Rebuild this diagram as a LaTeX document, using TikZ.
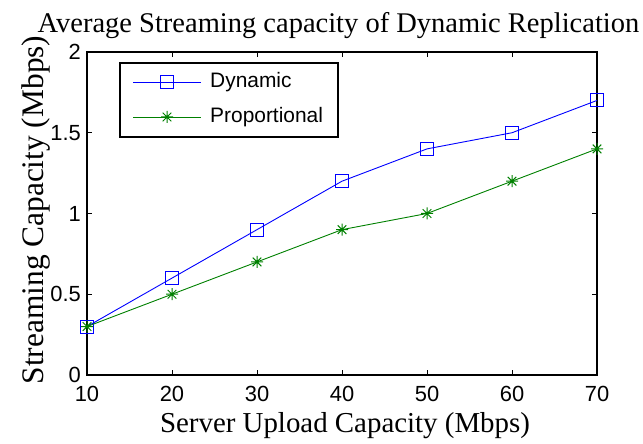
\documentclass[tikz,border=0pt]{standalone}
\usepackage{fontspec}
\usetikzlibrary{calc}
\setmainfont{Liberation Serif}
\newfontfamily\arialfont{Liberation Sans}
\definecolor{dynBlue}{RGB}{0,0,255}
\definecolor{propGreen}{RGB}{0,128,0}

\begin{document}
\begin{tikzpicture}[x=1bp, y=1bp,
  axisline/.style={draw=black, line width=1.4bp},
  tickmark/.style={draw=black, line width=1bp},
  ticklab/.style={font=\arialfont\fontsize{22}{24}\selectfont, inner sep=0pt},
  axlab/.style={font=\fontsize{29}{32}\selectfont, inner sep=0pt, anchor=base},
  leglab/.style={font=\arialfont\fontsize{21}{24}\selectfont, inner sep=0pt, anchor=west},
  dynline/.style={draw=dynBlue, line width=0.9bp},
  propline/.style={draw=propGreen, line width=0.9bp},
  sqmark/.style={draw=dynBlue, line width=1bp, rectangle, minimum size=13bp, inner sep=0pt},
  legbox/.style={draw=black, line width=1.2bp, fill=white},
  asterisk/.pic={
    \draw[propGreen, line width=1bp] (-6bp,0)--(6bp,0) (0,-6bp)--(0,6bp)
      (-4.3bp,-4.3bp)--(4.3bp,4.3bp) (-4.3bp,4.3bp)--(4.3bp,-4.3bp);}
]
\useasboundingbox (0,0) rectangle (643,444);

% ---- titles
\node[axlab, font=\fontsize{28.6}{32}\selectfont] (title) at (338.5,411)
  {Average Streaming capacity of Dynamic Replication};
\node[axlab] (xlab) at (345,11) {Server Upload Capacity (Mbps)};
\node[axlab, font=\fontsize{31.5}{34}\selectfont, rotate=90] (ylab) at (43,234)
  {Streaming Capacity (Mbps)};

% ---- axes (data x-10, y)
\begin{scope}[shift={(87,69)}, x=8.5bp, y=161.5bp]
  \draw[axisline] (0,0) rectangle (60,2);
  \foreach \xv in {10,20,...,70}{
    \draw[tickmark] (\xv-10,0) -- ++(0,5bp);
    \draw[tickmark] (\xv-10,2) -- ++(0,-5bp);
    \node[ticklab, anchor=north, yshift=-11bp] (xt\xv) at (\xv-10,0) {\xv};
  }
  \foreach \yv/\yl in {0/0, 0.5/0.5, 1/1, 1.5/1.5, 2/2}{
    \draw[tickmark] (0,\yv) -- ++(5bp,0);
    \draw[tickmark] (60,\yv) -- ++(-5bp,0);
    \node[ticklab, anchor=east, xshift=-6bp] (yt\yl) at (0,\yv) {\yl};
  }

  % data points
  \foreach \xv/\dv/\pv [count=\i] in {10/0.3/0.3, 20/0.6/0.5, 30/0.9/0.7,
      40/1.2/0.9, 50/1.4/1.0, 60/1.5/1.2, 70/1.7/1.4}{
    \coordinate (d\i) at (\xv-10,\dv);
    \coordinate (p\i) at (\xv-10,\pv);
  }
\end{scope}

% Dynamic
\draw[dynline] (d1) -- (d2) -- (d3) -- (d4) -- (d5) -- (d6) -- (d7);
\foreach \i in {1,...,7}
  \node[sqmark] (dm\i) at (d\i) {};

% Proportional
\draw[propline] (p1) -- (p2) -- (p3) -- (p4) -- (p5) -- (p6) -- (p7);
\foreach \i in {1,...,7}
  \pic at (p\i) {asterisk};

% ---- legend
\draw[legbox] (120,307) rectangle (338,381);
\coordinate (ld0) at (133,362);
\coordinate (ld1) at (201,362);
\coordinate (lp0) at (133,327);
\coordinate (lp1) at (201,327);
\draw[dynline] (ld0) -- (ld1);
\node[sqmark] (ldm) at ($(ld0)!0.5!(ld1)$) {};
\node[leglab] (ldt) at (210,362) {Dynamic};
\draw[propline] (lp0) -- (lp1);
\pic at ($(lp0)!0.5!(lp1)$) {asterisk};
\node[leglab] (lpt) at (210,327) {Proportional};
\end{tikzpicture}
\end{document}
